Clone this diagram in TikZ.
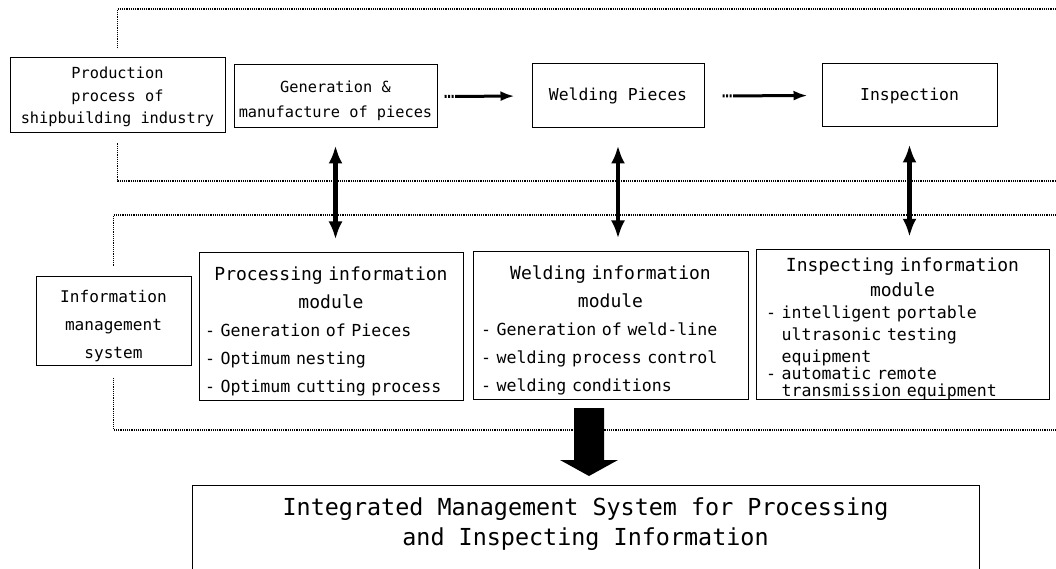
\documentclass[tikz,border=0pt]{standalone}
\usepackage{fontspec}
\usepackage{tikz}
\usetikzlibrary{arrows.meta,positioning}
\newfontfamily\boxfont{DejaVu Sans Mono}
\newcommand\modtitle[1]{\makebox[\linewidth]{\fontsize{18}{28}\selectfont #1}}

\begin{document}
\begin{tikzpicture}[x=1pt,y=-1pt,
    box/.style={draw,line width=1pt,rectangle,align=center,inner sep=0pt},
    stage/.style={box,font=\boxfont\fontsize{16.4}{22}\selectfont},
    modbox/.style={draw,line width=1pt,rectangle,align=left,inner ysep=0pt,font=\boxfont\fontsize{16.6}{28}\selectfont},
    frameline/.style={densely dotted,line width=1.2pt},
    flow/.style={line width=3pt,-{Latex[length=14pt,width=10pt]},dash pattern=on 2pt off 1.5pt on 2pt off 1.5pt on 2pt off 1.5pt on 200pt off 0pt},
    link/.style={line width=4.5pt,{Latex[length=18pt,width=14pt]}-{Latex[length=18pt,width=14pt]}}]
   \useasboundingbox (0,0) rectangle (1056,569);
   \clip (0,0) rectangle (1056,569);

   \node[stage,minimum width=215pt,minimum height=75pt,font=\boxfont\fontsize{15.3}{22.5}\selectfont] (prod) at (117.5,95.5) {\rule{0pt}{15pt}Production\\process of\\shipbuilding industry};
   \node[stage,minimum width=203pt,minimum height=63pt,font=\boxfont\fontsize{15.3}{25}\selectfont] (gen) at (335.5,96.5) {\rule{0pt}{21pt}Generation \&\\manufacture of pieces};
   \node[stage,minimum width=172pt,minimum height=64pt] (weld) at (618,96) {Welding Pieces};
   \node[stage,minimum width=175pt,minimum height=63pt] (insp) at (909.5,95.5) {Inspection};

   \node[stage,minimum width=155pt,minimum height=89pt,font=\boxfont\fontsize{16.1}{28}\selectfont] (info) at (113.5,320.5) {\rule{0pt}{24pt}Information\\management\\system};
   \node[modbox,text width=252pt,inner xsep=6pt,minimum height=148pt] (procmod) at (331,326)
      {\rule{0pt}{25pt}\modtitle{Processing information}\\ \modtitle{module}\\ - Generation of Pieces\\ - Optimum nesting\\ - Optimum cutting process};
   \node[modbox,text width=259pt,inner xsep=8pt,minimum height=148pt] (weldmod) at (610.5,325)
      {\rule{0pt}{25pt}\modtitle{Welding information}\\ \modtitle{module}\\ - Generation of weld-line\\ - welding process control\\ - welding conditions};
   \node[modbox,text width=273pt,inner xsep=10pt,minimum height=149pt,font=\boxfont\fontsize{16.6}{22}\selectfont] (inspmod) at (902.5,324.5)
      {\rule{0pt}{22pt}\modtitle{Inspecting information}\\[3pt] \modtitle{module}\\ - intelligent portable\\ \phantom{- }ultrasonic testing\\ \phantom{- }equipment\\[-5pt] - automatic remote\\[-5pt] \phantom{- }transmission equipment};

   \node[box,anchor=north,minimum width=787pt,inner ysep=12pt,text depth=90pt,font=\boxfont\fontsize{23.4}{30}\selectfont] (ims) at (585.5,485)
      {Integrated Management System for Processing\\and Inspecting Information};

   \coordinate (topR) at (1056,9);
   \coordinate (midR) at (1056,181);
   \coordinate (lowtopR) at (1056,215);
   \coordinate (lowR) at (1056,430);
   \draw[frameline,shorten <=9pt] (prod.north) |- (topR);
   \draw[frameline,shorten <=10pt] (prod.south) |- (midR);
   \draw[frameline,shorten <=10pt] (info.north) |- (lowtopR);
   \draw[frameline,shorten <=12pt] (info.south) |- (lowR);

   \draw[flow,shorten <=7pt,shorten >=17pt] (gen.east) -- (weld.west);
   \draw[flow,shorten <=18pt,shorten >=14pt] (weld.east) -- (insp.west);

   \draw[link,shorten <=17pt,shorten >=12pt] (gen.south) -- (gen.south |- procmod.north);
   \draw[link,shorten <=17pt,shorten >=12pt] (weld.south) -- (weld.south |- weldmod.north);
   \draw[link,shorten <=17pt,shorten >=12pt] (insp.south) -- (insp.south |- inspmod.north);

   \fill (574,408) -- (604,408) -- (604,460) -- (618,460) -- (589,476) -- (560,460) -- (574,460) -- cycle;
\end{tikzpicture}
\end{document}
